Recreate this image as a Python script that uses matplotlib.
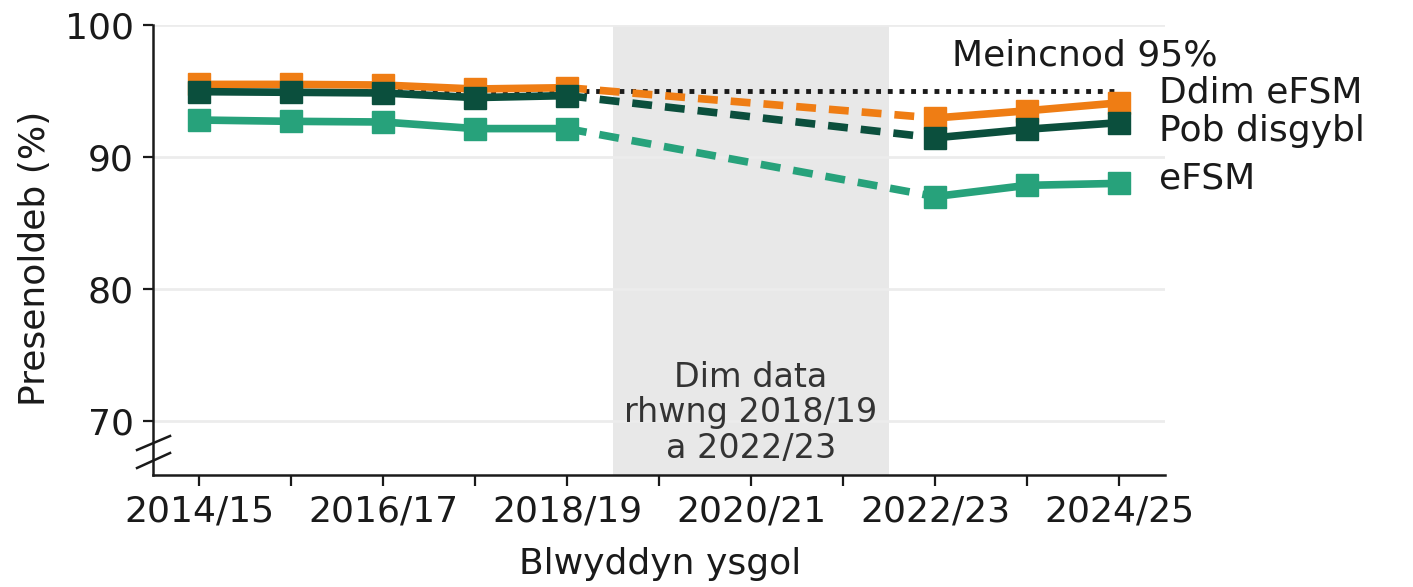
import matplotlib
matplotlib.use('Agg')
import matplotlib.pyplot as plt
import numpy as np

# data
years = ['2014/15', '2015/16', '2016/17', '2017/18', '2018/19', '2019/20',
         '2020/21', '2021/22', '2022/23', '2023/24', '2024/25']
ddim_efsm = [95.5, 95.5, 95.45, 95.15, 95.25, np.nan, np.nan, np.nan, 92.95, 93.5, 94.1]
pob_disgybl = [94.95, 94.9, 94.85, 94.5, 94.65, np.nan, np.nan, np.nan, 91.45, 92.1, 92.6]
efsm = [92.8, 92.7, 92.65, 92.15, 92.15, np.nan, np.nan, np.nan, 87.0, 87.85, 88.0]
benchmark = 95
gap_start, gap_end = '2018/19', '2022/23'

series = [
    ('Ddim eFSM', ddim_efsm, '#ef7d14', 94.85),
    ('Pob disgybl', pob_disgybl, '#0b4f3d', 91.95),
    ('eFSM', efsm, '#27a27b', 88.4),
]

plt.rcParams['font.family'] = ['DejaVu Sans']
fig = plt.figure(figsize=(14.13, 5.87), dpi=100)
ax = fig.add_axes([0.1083, 0.1908, 0.7162, 0.7666])

x = np.arange(len(years))
i0, i1 = years.index(gap_start), years.index(gap_end)

# no-data band
ax.axvspan(i0 + 0.5, i1 - 0.5, color='#e8e8e8', zorder=0, lw=0)
ax.text((i0 + i1) / 2, 70.6, 'Dim data\nrhwng 2018/19\na 2022/23', ha='center', va='center',
        fontsize=24, color='#333333', linespacing=1.1, zorder=1)

# benchmark
ax.plot([x[0], x[-1]], [benchmark, benchmark], color='#1a1a1a', lw=3.5,
        linestyle=(0, (1, 1.4)), zorder=2)
ax.text(9.63, 97.7, 'Meincnod 95%', ha='center', va='center', fontsize=26, color='#1a1a1a')

for name, vals, col, ylab in series:
    v = np.array(vals)
    ax.plot(x, v, color=col, lw=5.5, marker='s', markersize=16, zorder=3)
    ax.plot([x[i0], x[i1]], [v[i0], v[i1]], color=col, lw=5.5,
            linestyle=(0, (2.6, 1.7)), zorder=3)
    ax.text(10.43, ylab, name, ha='left', va='center', fontsize=26, color='#1a1a1a')

ax.set_xlim(-0.5, 10.5)
ax.set_ylim(65.9, 100)
ax.set_xticks(x)
ax.set_xticklabels([y if i % 2 == 0 else '' for i, y in enumerate(years)])
ax.set_yticks([70, 80, 90, 100])
ax.yaxis.grid(True, color='#ececec', lw=2)
ax.set_axisbelow(True)

for s in ['top', 'right']:
    ax.spines[s].set_visible(False)
for s in ['left', 'bottom']:
    ax.spines[s].set_linewidth(1.8)
    ax.spines[s].set_color('#1a1a1a')
ax.tick_params(axis='both', labelsize=26, width=1.6, color='#1a1a1a', labelcolor='#1a1a1a')
ax.tick_params(axis='x', length=8, pad=6)
ax.tick_params(axis='y', length=7, pad=7)

ax.set_ylabel('Presenoldeb (%)', fontsize=26, color='#1a1a1a')
ax.yaxis.set_label_coords(-0.1, 0.482)
ax.set_xlabel('Blwyddyn ysgol', fontsize=26, color='#1a1a1a', va='top')
ax.xaxis.set_label_coords(0.501, -0.16)

# axis break marks
for y0, y1 in [(0.0556, 0.0867), (0.0156, 0.0489)]:
    ax.plot([-0.0158, 0.0168], [y0, y1], transform=ax.transAxes, color='#1a1a1a',
            lw=1.8, clip_on=False)

fig.savefig('out.png', dpi=100)
